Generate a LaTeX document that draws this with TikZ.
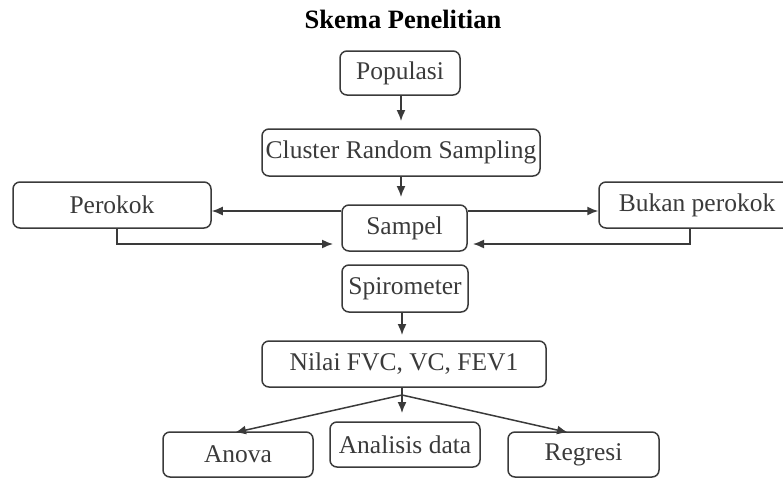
\documentclass[tikz,border=0pt]{standalone}
\usepackage{fontspec}
\setmainfont{Liberation Serif}
\usetikzlibrary{arrows.meta}
\definecolor{ink}{HTML}{3A3A3A}
\begin{document}
\begin{tikzpicture}[x=1pt,y=-1pt,
  box/.style={draw=ink,line width=1.5pt,rounded corners=7pt,text=ink,inner sep=0pt,
    font=\fontsize{25.5}{30}\selectfont},
  arr/.style={draw=ink,line width=1.5pt,-{Latex[length=11pt,width=9pt]}},
  ln/.style={draw=ink,line width=1.5pt}]
\useasboundingbox (0,0) rectangle (783,479);
\clip (0,0) rectangle (783,479);
\node[font=\bfseries\fontsize{26.5}{30}\selectfont,text=black] (title) at (403,19) {Skema Penelitian};
\node[box,minimum width=120pt,minimum height=44pt] (pop) at (400,73) {Populasi};
\node[box,minimum width=278pt,minimum height=47pt] (crs) at (401,152.5) {Cluster Random Sampling};
\node[box,minimum width=125pt,minimum height=46pt] (sam) at (404.5,228) {Sampel};
\node[box,minimum width=198pt,minimum height=46pt] (per) at (112,205) {Perokok};
\node[box,minimum width=196pt,minimum height=46pt] (buk) at (697,205) {Bukan perokok};
\node[box,minimum width=126pt,minimum height=47pt] (spi) at (405,288.5) {Spirometer};
\node[box,minimum width=284pt,minimum height=46pt] (nil) at (404,364) {Nilai FVC, VC, FEV1};
\node[box,minimum width=150pt,minimum height=45pt] (ano) at (238,454.5) {Anova};
\node[box,minimum width=150pt,minimum height=45pt] (ana) at (405,444.5) {Analisis data};
\node[box,minimum width=151pt,minimum height=45pt] (reg) at (583.5,454.5) {Regresi};
% vertical arrows with gaps
\coordinate (c1) at (401,121);
\coordinate (c2) at (401,197);
\coordinate (c3) at (402,335);
\draw[arr] (pop.south -| c1) -- (c1);
\draw[arr] (crs.south -| c2) -- (c2);
\draw[arr] (spi.south -| c3) -- (c3);
% sampel to groups
\draw[arr] ([yshift=17pt]sam.west) -- ([yshift=-6pt]per.east);
\draw[arr] ([yshift=17pt]sam.east) -- ([yshift=-6pt]buk.west);
\coordinate (pr) at (117,244);
\coordinate (pt) at (333,244);
\draw[arr] (per.south -| pr) -- (pr) -- (pt);
\coordinate (br) at (690,244);
\coordinate (bt) at (473,244);
\draw[arr] (buk.south -| br) -- (br) -- (bt);
% fork
\coordinate (f) at (402,395);
\coordinate (ft) at (402,413);
\draw[arr] (nil.south -| f) -- (ft);
\draw[arr] (f) -- (235,432.5);
\draw[arr] (f) -- (568,432.5);
\end{tikzpicture}
\end{document}
